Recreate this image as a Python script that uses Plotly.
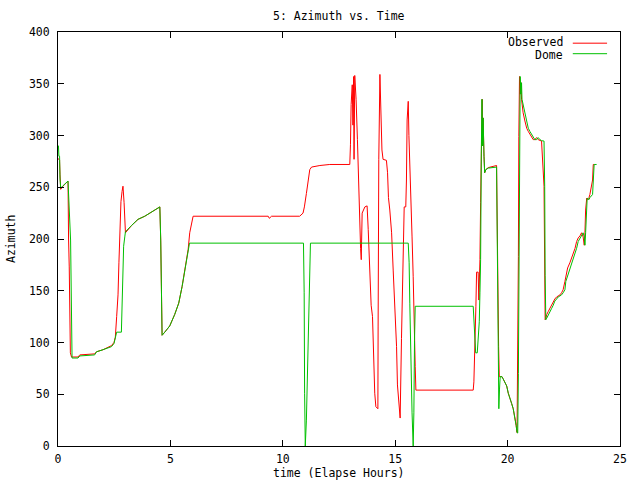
import plotly.graph_objects as go

# Observed (red)
obs_t = [0, 0.04, 0.07, 0.09, 0.12, 0.22, 0.3, 0.445, 0.47, 0.5, 0.55, 0.6, 0.89, 0.97, 1.63, 1.71,
         2.0, 2.23, 2.38, 2.49, 2.55, 2.61, 2.67, 2.71, 2.76, 2.8, 2.85, 2.89, 2.94, 2.97, 3.0,
         3.27, 3.56, 3.86, 4.16, 4.53, 4.57, 4.6, 4.63, 4.75, 4.97, 5.19, 5.37, 5.52, 5.64, 5.73,
         5.79, 5.86, 5.94, 6.01, 9.35, 9.4, 9.5, 10.75, 10.9, 10.96, 11.05, 11.13, 11.2, 11.28,
         11.65, 12.09, 12.98, 13.01, 13.04, 13.09, 13.12, 13.15, 13.17, 13.2, 13.24, 13.26, 13.32,
         13.37, 13.41, 13.46, 13.49, 13.5, 13.53, 13.65, 13.75, 13.8, 13.87, 13.93, 13.99, 14.02,
         14.09, 14.14, 14.23, 14.24, 14.27, 14.32, 14.35, 14.41, 14.46, 14.61, 14.66, 14.7, 14.76,
         14.84, 14.91, 14.98, 15.06, 15.1, 15.16, 15.22, 15.28, 15.35, 15.4, 15.47, 15.5, 15.53,
         15.58, 15.61, 15.65, 15.71, 15.75, 15.8, 15.83, 15.87, 15.89, 15.92, 18.47, 18.5, 18.53,
         18.56, 18.59, 18.62, 18.69, 18.72, 18.77, 18.8, 18.84, 18.87, 18.89, 18.91, 18.95, 18.98,
         19.03, 19.14, 19.51, 19.54, 19.57, 19.6, 19.63, 19.67, 19.75, 19.8, 19.88, 19.96, 20.03,
         20.1, 20.18, 20.25, 20.33, 20.38, 20.42, 20.45, 20.48, 20.5, 20.53, 20.56, 20.59, 20.62,
         20.64, 20.69, 20.77, 20.85, 20.92, 20.99, 21.07, 21.14, 21.21, 21.29, 21.36, 21.44, 21.51,
         21.62, 21.65, 21.67, 21.7, 21.74, 21.81, 21.88, 21.96, 22.03, 22.1, 22.18, 22.25, 22.33,
         22.4, 22.47, 22.55, 22.59, 22.67, 22.77, 22.85, 22.92, 23.0, 23.07, 23.14, 23.22, 23.29,
         23.36, 23.41, 23.44, 23.47, 23.52, 23.54, 23.62, 23.66, 23.78, 23.81, 23.85, 23.96]
obs_az = [278, 276, 276, 262, 248, 251, 253, 256, 200, 173, 90, 86, 86, 88, 89, 91,
          93, 95, 97, 100, 105, 125, 146, 177, 214, 236, 246, 251, 235, 215, 206,
          213, 219, 222, 226, 231, 199, 138, 107, 110, 116, 127, 138, 154, 170, 183,
          190, 206, 216, 222, 222, 220, 222, 222, 225, 231, 244, 257, 267, 269.5,
          271, 272, 272, 291, 330, 349, 310, 357, 277, 358, 347, 335, 296,
          251, 215, 191, 180, 215, 225, 231, 232, 209, 162, 136, 125, 100,
          51, 38, 36, 115, 277, 359, 341, 286, 277, 276, 264, 240, 228,
          206, 170, 135, 96, 59, 41, 27, 104, 206, 231, 231, 257, 315,
          333, 300, 277, 240, 202, 164, 124, 101, 77, 54, 54, 62, 80,
          100, 135, 168, 168, 141, 180, 235, 283, 335, 290, 317, 280, 264,
          267, 269, 271, 215, 100, 96, 67, 67, 67, 65, 62, 58, 51,
          47, 41, 36, 27, 20, 13, 70, 183, 299, 357, 340, 351,
          335, 330, 322, 314, 307, 304, 301, 298, 296, 296, 298, 296, 295,
          294.6, 251, 165, 122, 123.5, 127, 130, 133, 136, 140, 142, 144, 145,
          146, 148, 151, 159, 164, 172, 177, 181.5, 186, 191, 197.6, 201, 203,
          206, 202, 194, 206, 228, 239.5, 238, 240, 243, 257, 272, 272]

# Dome (green)
dome_t = [0, 0.02, 0.04, 0.07, 0.09, 0.12, 0.2, 0.3, 0.445, 0.56, 0.6, 0.625, 0.89, 0.97, 1.63,
          1.71, 2.0, 2.23, 2.38, 2.49, 2.55, 2.61, 2.82, 2.85, 2.88, 2.92, 2.97, 3.0, 3.27, 3.56,
          3.86, 4.16, 4.53, 4.57, 4.6, 4.63, 4.75, 4.97, 5.19, 5.37, 5.52, 5.64, 5.73, 5.79, 5.85,
          10.92, 10.95, 10.97, 11.0, 11.05, 11.1, 11.15, 11.2, 11.23, 15.58, 15.62, 15.65, 15.68,
          15.73, 15.75, 15.8, 15.83, 15.86, 15.89, 18.47, 18.5, 18.53, 18.58, 18.65, 18.69, 18.74,
          18.77, 18.8, 18.83, 18.86, 18.89, 18.91, 18.95, 18.98, 19.03, 19.14, 19.51, 19.54, 19.57,
          19.61, 19.64, 19.67, 19.75, 19.8, 19.88, 19.96, 20.03, 20.1, 20.18, 20.25, 20.33, 20.38,
          20.42, 20.45, 20.48, 20.5, 20.53, 20.56, 20.59, 20.62, 20.64, 20.69, 20.77, 20.85, 20.92,
          20.99, 21.07, 21.14, 21.21, 21.29, 21.36, 21.44, 21.51, 21.62, 21.65, 21.67, 21.7, 21.74,
          21.81, 21.88, 21.96, 22.03, 22.1, 22.18, 22.25, 22.33, 22.4, 22.47, 22.55, 22.59, 22.67,
          22.77, 22.85, 22.92, 23.0, 23.07, 23.14, 23.22, 23.29, 23.36, 23.41, 23.44, 23.47, 23.52,
          23.54, 23.62, 23.66, 23.78, 23.81, 23.85, 23.96]
dome_az = [290, 290, 280, 280, 258, 249, 251, 253, 256, 199, 122, 85, 85, 87, 88,
           91, 93, 95, 96, 99, 105, 110, 110, 131, 170, 193, 202, 207, 213, 219,
           222, 226, 231, 199, 138, 107, 110, 116, 127, 138, 154, 170, 183, 190, 196,
           196, 148, 51, 0, 25, 73, 122, 170, 196, 196, 177, 138, 99,
           59, 32, 0, 32, 102, 135, 135, 122, 100, 90, 90, 100, 120,
           148, 180, 283, 335, 290, 317, 280, 264, 267, 268.5, 269.5, 212, 96,
           36, 55, 67, 67, 65, 62, 58, 51, 47, 41, 36, 27, 20,
           13, 12.5, 70, 183, 299, 357, 340, 351, 335, 330, 322, 314, 307,
           304, 301, 298, 296, 296, 298, 296, 295, 294.6, 251, 165, 122, 123.5,
           127, 130, 133, 136, 140, 142, 144, 145, 146, 148, 151, 159, 164,
           172, 177, 181.5, 186, 191, 197.6, 201, 203, 206, 202, 194, 206, 228,
           239.5, 238, 240, 243, 257, 272, 272]

x_ticks = [0, 5, 10, 15, 20, 25]
y_ticks = [0, 50, 100, 150, 200, 250, 300, 350, 400]

RED = "#ff0000"
GREEN = "#00c000"
FONT = "DejaVu Sans Mono"
FS = 11.5

fig = go.Figure()
fig.add_trace(go.Scatter(x=obs_t, y=obs_az, mode="lines", name="Observed",
                         line=dict(color=RED, width=1)))
fig.add_trace(go.Scatter(x=dome_t, y=dome_az, mode="lines", name="Dome",
                         line=dict(color=GREEN, width=1)))

axis_common = dict(showgrid=False, zeroline=False, showline=True, linecolor="black",
                   linewidth=1, mirror="allticks", ticks="inside", ticklen=6,
                   tickcolor="black", tickwidth=1, automargin=False,
                   tickfont=dict(family=FONT, size=FS, color="black"))

fig.update_xaxes(range=[0, 25], tickvals=x_ticks, ticktext=[str(v) for v in x_ticks],
                 ticklabelstandoff=2, **axis_common)
fig.update_yaxes(range=[0, 400], tickvals=y_ticks, ticktext=[str(v) for v in y_ticks],
                 ticklabelstandoff=5, **axis_common)

annots = [
    dict(text="5: Azimuth vs. Time", x=0.5, y=1, xref="paper", yref="paper",
         xanchor="center", yanchor="middle", yshift=16, showarrow=False),
    dict(text="time (Elapse Hours)", x=0.5, y=0, xref="paper", yref="paper",
         xanchor="center", yanchor="middle", yshift=-27, showarrow=False),
    dict(text="Azimuth", x=0, y=0.5, xref="paper", yref="paper", textangle=-90,
         xanchor="center", yanchor="middle", xshift=-47, showarrow=False),
    dict(text="Observed", x=0.902, y=0.973, xref="paper", yref="paper",
         xanchor="right", yanchor="middle", yshift=1, showarrow=False),
    dict(text="Dome", x=0.902, y=0.9476, xref="paper", yref="paper",
         xanchor="right", yanchor="middle", yshift=-1, showarrow=False),
]
for a in annots:
    a["font"] = dict(family=FONT, size=FS, color="black")

shapes = [
    dict(type="line", xref="paper", yref="paper", x0=0.916, x1=0.977, y0=0.973, y1=0.973,
         line=dict(color=RED, width=1)),
    dict(type="line", xref="paper", yref="paper", x0=0.916, x1=0.977, y0=0.9476, y1=0.9476,
         line=dict(color=GREEN, width=1)),
]

fig.update_layout(width=640, height=480, margin=dict(l=58, r=20, t=32, b=34),
                  paper_bgcolor="white", plot_bgcolor="white", showlegend=False,
                  annotations=annots, shapes=shapes)

fig.write_html("out.html")
